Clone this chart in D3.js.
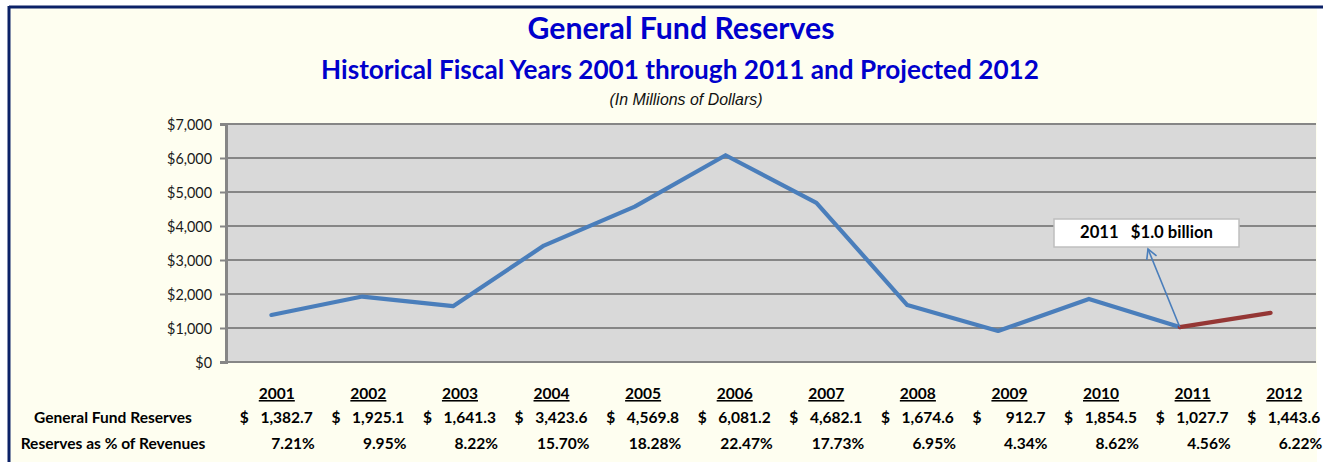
<!DOCTYPE html>
<html>
<head>
<meta charset="utf-8">
<script src="https://cdn.jsdelivr.net/npm/d3@7"></script>
<style>
  html, body { margin: 0; padding: 0; background: #ffffff; }
  svg { display: block; }
</style>
</head>
<body>
<svg id="chart" width="1323" height="462"></svg>
<script>
// ---------- data ----------
const years = ["2001","2002","2003","2004","2005","2006","2007","2008","2009","2010","2011","2012"];
const reserves = [1382.7, 1925.1, 1641.3, 3423.6, 4569.8, 6081.2, 4682.1, 1674.6, 912.7, 1854.5, 1027.7, 1443.6];
const pctRevenues = ["7.21%","9.95%","8.22%","15.70%","18.28%","22.47%","17.73%","6.95%","4.34%","8.62%","4.56%","6.22%"];
const yTicks = [0, 1000, 2000, 3000, 4000, 5000, 6000, 7000];
const projectedFrom = "2011";
const titleText = "General Fund Reserves";
const subtitleText = "Historical Fiscal Years 2001 through 2011 and Projected 2012";
const unitText = "(In Millions of Dollars)";
const calloutText = "2011   $1.0 billion";
const rowLabels = ["General Fund Reserves", "Reserves as % of Revenues"];

// ---------- layout ----------
const W = 1323, H = 462;
const plot = { left: 226, right: 1316, top: 124, bottom: 362 };
const svg = d3.select("#chart");
const FONT = "Lato, 'Open Sans', sans-serif";

// fit a text element's font size so that its rendered width matches target
function fitWidth(sel, target) {
  const node = sel.node();
  const fs = parseFloat(sel.attr("font-size"));
  const w = node.getComputedTextLength();
  sel.attr("font-size", (fs * target / w).toFixed(2));
  return fs * target / w;
}

// background panel + frame
svg.append("rect").attr("x", 0).attr("y", 0).attr("width", W).attr("height", H).attr("fill", "#ffffff");
svg.append("rect").attr("x", 9).attr("y", 7).attr("width", 1308).attr("height", H).attr("fill", "#FEFEF0");
svg.append("line").attr("x1", 9).attr("x2", W).attr("y1", 7).attr("y2", 7)
   .attr("stroke", "#0B2167").attr("stroke-width", 3);
svg.append("line").attr("x1", 9).attr("x2", 9).attr("y1", 6).attr("y2", H)
   .attr("stroke", "#0B2167").attr("stroke-width", 3);

// titles
const t1 = svg.append("text").attr("x", 681).attr("y", 39).attr("text-anchor", "middle")
  .attr("font-family", FONT).attr("font-weight", "bold").attr("font-size", 26)
  .attr("fill", "#0000CC").text(titleText);
fitWidth(t1, 307);
const t2 = svg.append("text").attr("x", 680).attr("y", 79).attr("text-anchor", "middle")
  .attr("font-family", FONT).attr("font-weight", "bold").attr("font-size", 23)
  .attr("fill", "#0000CC").text(subtitleText);
fitWidth(t2, 718);
const t3 = svg.append("text").attr("x", 686).attr("y", 105).attr("text-anchor", "middle")
  .attr("font-family", "'Liberation Sans', Arial, sans-serif").attr("font-style", "italic").attr("font-size", 14)
  .attr("fill", "#111").text(unitText);
fitWidth(t3, 153);

// scales
const x = d3.scaleBand().domain(years).range([plot.left, plot.right]);
const cx = d => x(d) + x.bandwidth() / 2;
const y = d3.scaleLinear().domain([0, 7000]).range([plot.bottom, plot.top]);

// plot area
svg.append("rect").attr("x", plot.left).attr("y", plot.top)
  .attr("width", plot.right - plot.left).attr("height", plot.bottom - plot.top).attr("fill", "#D9D9D9");

// gridlines
svg.append("g").selectAll("line").data(yTicks).join("line")
  .attr("x1", plot.left).attr("x2", plot.right)
  .attr("y1", d => y(d)).attr("y2", d => y(d))
  .attr("stroke", "#868686").attr("stroke-width", 2);

// y axis
const yAxis = d3.axisLeft(y).tickValues(yTicks).tickSize(6).tickPadding(8)
  .tickFormat(d => "$" + d3.format(",")(d));
const gy = svg.append("g").attr("transform", `translate(${plot.left},0)`).call(yAxis);
gy.select(".domain").attr("stroke", "#868686").attr("stroke-width", 3);
gy.selectAll(".tick line").attr("stroke", "#868686").attr("stroke-width", 2);
gy.selectAll(".tick text").attr("font-family", FONT).attr("font-size", 13).attr("fill", "#1a1a1a").attr("dy", "0.36em");
{
  const sample = gy.selectAll(".tick text").filter(d => d === 7000);
  const fs = fitWidth(sample, 45);
  gy.selectAll(".tick text").attr("font-size", fs.toFixed(2));
}

// lines
const pts = years.map((yr, i) => ({ yr, v: reserves[i] }));
const splitIdx = years.indexOf(projectedFrom);
const line = d3.line().x(d => cx(d.yr)).y(d => y(d.v));
svg.append("path").datum(pts.slice(0, splitIdx + 1)).attr("d", line)
  .attr("fill", "none").attr("stroke", "#4A7EBB").attr("stroke-width", 4.2)
  .attr("stroke-linejoin", "round").attr("stroke-linecap", "round");
svg.append("path").datum(pts.slice(splitIdx)).attr("d", line)
  .attr("fill", "none").attr("stroke", "#953735").attr("stroke-width", 4.2)
  .attr("stroke-linejoin", "round").attr("stroke-linecap", "round");

// callout
const box = { x: 1054, y: 219, w: 185, h: 28 };
svg.append("rect").attr("x", box.x).attr("y", box.y).attr("width", box.w).attr("height", box.h)
  .attr("fill", "#ffffff").attr("stroke", "#BFBFBF").attr("stroke-width", 1.5);
const ct = svg.append("text").attr("x", box.x + box.w / 2).attr("y", box.y + 19).attr("text-anchor", "middle")
  .attr("font-family", FONT).attr("font-weight", "bold").attr("font-size", 14)
  .attr("fill", "#000").attr("xml:space", "preserve").style("white-space", "pre").text(calloutText);
fitWidth(ct, 133);

// arrow from 2011 point to the callout
const ax0 = cx(projectedFrom), ay0 = y(reserves[splitIdx]);
const ax1 = 1148, ay1 = 249;
svg.append("line").attr("x1", ax0).attr("y1", ay0).attr("x2", ax1).attr("y2", ay1)
  .attr("stroke", "#4A7EBB").attr("stroke-width", 1.6);
{
  const ang = Math.atan2(ay0 - ay1, ax0 - ax1);
  const L = 11, spread = 0.5;
  const p1 = [ax1 + L * Math.cos(ang - spread), ay1 + L * Math.sin(ang - spread)];
  const p2 = [ax1 + L * Math.cos(ang + spread), ay1 + L * Math.sin(ang + spread)];
  svg.append("path").attr("d", `M${p1[0]},${p1[1]}L${ax1},${ay1}L${p2[0]},${p2[1]}`)
    .attr("fill", "none").attr("stroke", "#4A7EBB").attr("stroke-width", 1.6);
}

// ---------- table ----------
const tx = d3.scaleBand().domain(years).range([231, 1330]);
const tc = d => tx(d) + tx.bandwidth() / 2;
const tbl = svg.append("g").attr("font-family", FONT).attr("font-weight", "bold").attr("fill", "#000");

// determine table font size from label width
const probe = tbl.append("text").attr("font-size", 13).text(rowLabels[0]);
const probeW = probe.node().getComputedTextLength();
const tfs = 13 * 158 / probeW;
probe.remove();

tbl.selectAll("text.yr").data(years).join("text").attr("class", "yr")
  .attr("x", d => tc(d)).attr("y", 399).attr("text-anchor", "middle")
  .attr("font-size", tfs).attr("text-decoration", "underline").text(d => d);

tbl.selectAll("text.lbl").data(rowLabels).join("text").attr("class", "lbl")
  .attr("x", 113).attr("y", (d, i) => i === 0 ? 423 : 449).attr("text-anchor", "middle")
  .attr("font-size", tfs).text(d => d);

tbl.selectAll("text.dol").data(years).join("text").attr("class", "dol")
  .attr("x", d => tc(d) - 37).attr("y", 423).attr("text-anchor", "start")
  .attr("font-size", tfs).text("$");

tbl.selectAll("text.val").data(pts).join("text").attr("class", "val")
  .attr("x", d => tc(d.yr) + 36).attr("y", 423).attr("text-anchor", "end")
  .attr("font-size", tfs).text(d => d3.format(",.1f")(d.v));

tbl.selectAll("text.pct").data(years).join("text").attr("class", "pct")
  .attr("x", d => tc(d) + 38).attr("y", 449).attr("text-anchor", "end")
  .attr("font-size", tfs).text((d, i) => pctRevenues[i]);
</script>
</body>
</html>
